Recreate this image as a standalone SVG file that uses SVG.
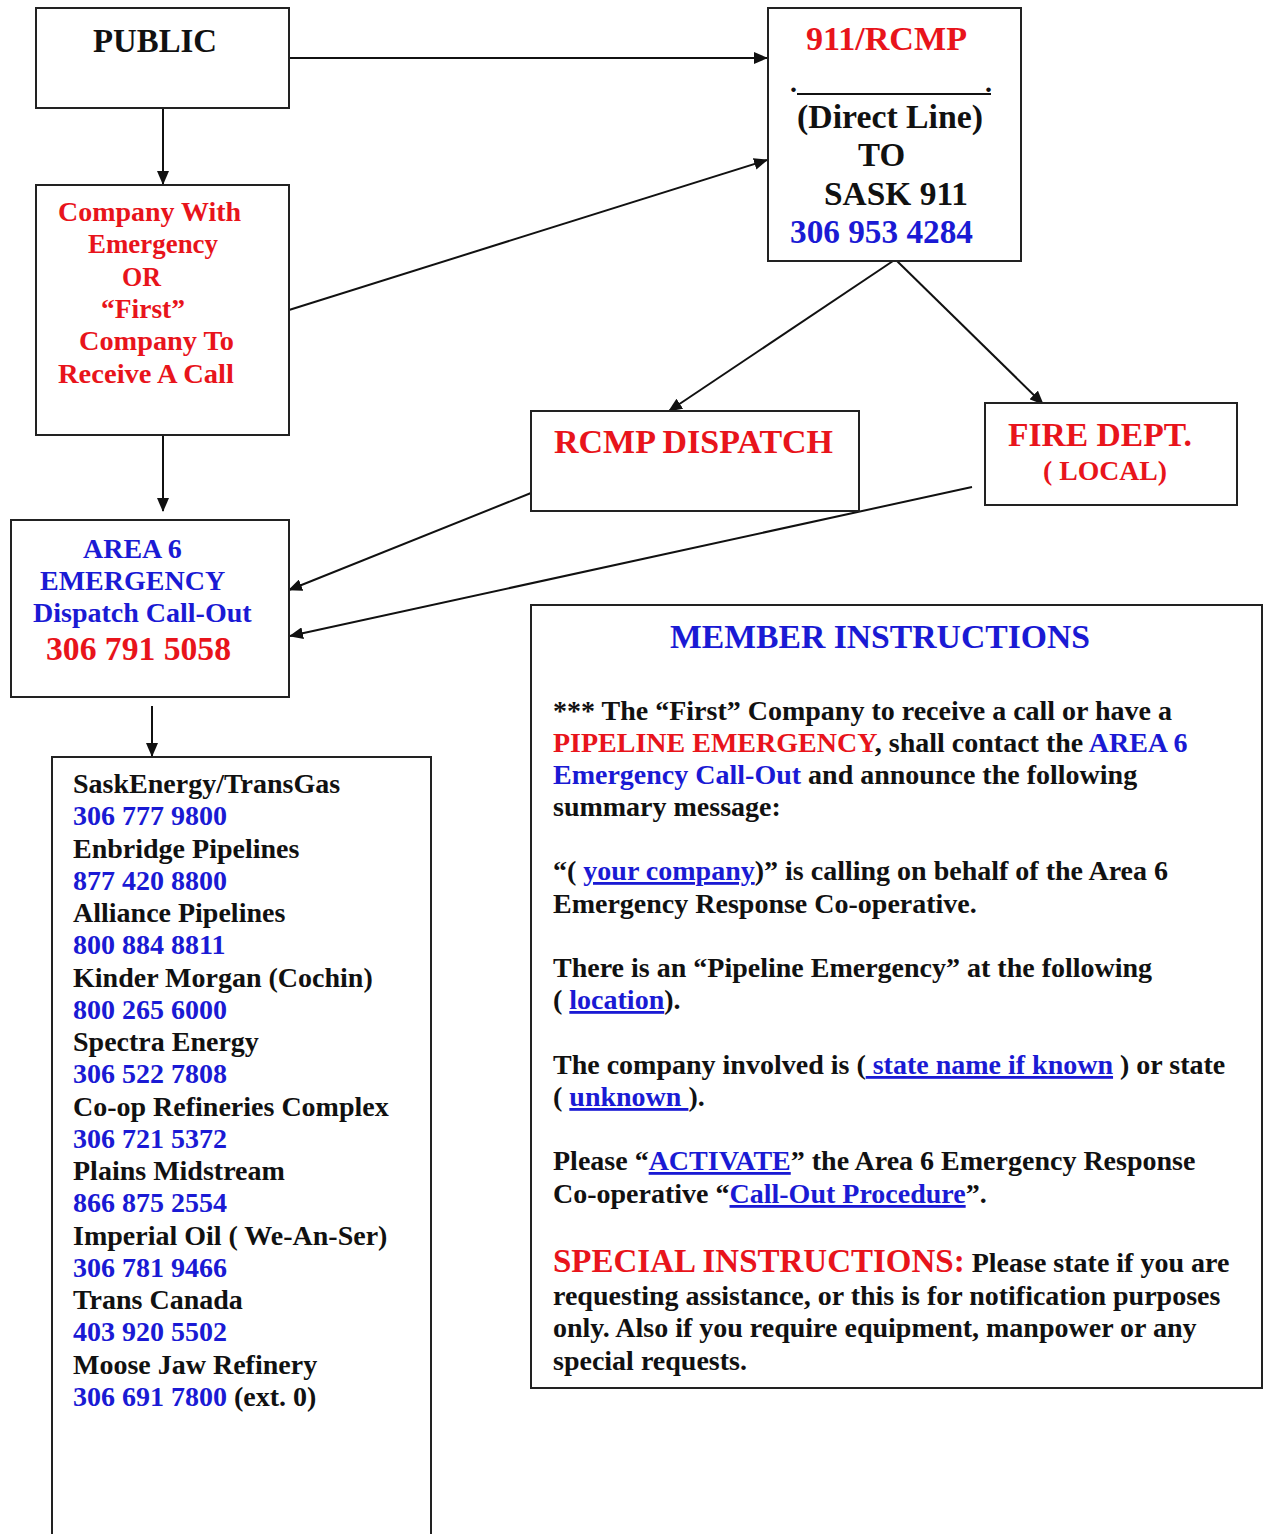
<svg xmlns="http://www.w3.org/2000/svg" width="1264" height="1534" viewBox="0 0 1264 1534">
<style>
.box{fill:#fff;stroke:#222;stroke-width:2}
.t{font-family:"Liberation Serif","Times New Roman",serif;font-weight:bold;fill:#111}
.r{fill:#e8141b}
.b{fill:#1a1ad4}
.f33{font-size:33px}
.f28{font-size:28px}
.f27{font-size:27px}
.u{text-decoration:underline}
.c{stroke:#111;stroke-width:2;fill:none}
</style>
<defs>
<marker id="ah" markerUnits="userSpaceOnUse" markerWidth="14" markerHeight="12" refX="13" refY="6" orient="auto">
<path d="M0,0 L14,6 L0,12 Z" fill="#111"/>
</marker>
</defs>
<rect width="1264" height="1534" fill="#fff"/>

<g id="connectors">
<line class="c" x1="289" y1="58" x2="767" y2="58" marker-end="url(#ah)"/>
<line class="c" x1="163" y1="108" x2="163" y2="184" marker-end="url(#ah)"/>
<line class="c" x1="289" y1="310" x2="767" y2="160" marker-end="url(#ah)"/>
<line class="c" x1="893" y1="261" x2="669" y2="411" marker-end="url(#ah)"/>
<line class="c" x1="897" y1="261" x2="1043" y2="404" marker-end="url(#ah)"/>
<line class="c" x1="163" y1="435" x2="163" y2="511" marker-end="url(#ah)"/>
<line class="c" x1="531" y1="493" x2="289" y2="590" marker-end="url(#ah)"/>
<line class="c" x1="972" y1="487" x2="290" y2="636" marker-end="url(#ah)"/>
<line class="c" x1="152" y1="706" x2="152" y2="756" marker-end="url(#ah)"/>
</g>

<g id="public">
<rect class="box" x="36" y="8" width="253" height="100"/>
<text class="t f33" x="93" y="52" textLength="124" lengthAdjust="spacingAndGlyphs">PUBLIC</text>
</g>

<g id="rcmp911">
<rect class="box" x="768" y="8" width="253" height="253"/>
<text class="t f33 r" x="806" y="50" textLength="161" lengthAdjust="spacingAndGlyphs">911/RCMP</text>
<text class="t f28" x="790" y="92">.</text>
<text class="t f28" x="985" y="92">.</text>
<line x1="797" y1="94" x2="991" y2="94" stroke="#111" stroke-width="2"/>
<text class="t f33" x="797" y="128" textLength="186" lengthAdjust="spacingAndGlyphs">(Direct Line)</text>
<text class="t f33" x="858" y="166">TO</text>
<text class="t f33" x="824" y="205" textLength="144" lengthAdjust="spacingAndGlyphs">SASK 911</text>
<text class="t f33 b" x="790" y="243" textLength="183" lengthAdjust="spacingAndGlyphs">306 953 4284</text>
</g>

<g id="company">
<rect class="box" x="36" y="185" width="253" height="250"/>
<text class="t f27 r" x="58" y="221" textLength="183" lengthAdjust="spacingAndGlyphs">Company With</text>
<text class="t f27 r" x="88" y="253" textLength="130" lengthAdjust="spacingAndGlyphs">Emergency</text>
<text class="t f27 r" x="122" y="286" textLength="39" lengthAdjust="spacingAndGlyphs">OR</text>
<text class="t f27 r" x="101" y="318" textLength="84" lengthAdjust="spacingAndGlyphs">“First”</text>
<text class="t f27 r" x="79" y="350" textLength="155" lengthAdjust="spacingAndGlyphs">Company To</text>
<text class="t f27 r" x="58" y="383" textLength="176" lengthAdjust="spacingAndGlyphs">Receive A Call</text>
</g>

<g id="rcmpdispatch">
<rect class="box" x="531" y="411" width="328" height="100"/>
<text class="t f33 r" x="554" y="453" textLength="279" lengthAdjust="spacingAndGlyphs">RCMP DISPATCH</text>
</g>

<g id="firedept">
<rect class="box" x="985" y="403" width="252" height="102"/>
<text class="t f33 r" x="1008" y="446" textLength="184" lengthAdjust="spacingAndGlyphs">FIRE DEPT.</text>
<text class="t f27 r" x="1043" y="480" textLength="124" lengthAdjust="spacingAndGlyphs">( LOCAL)</text>
</g>

<g id="area6">
<rect class="box" x="11" y="520" width="278" height="177"/>
<text class="t f28 b" x="83" y="558">AREA 6</text>
<text class="t f28 b" x="40" y="590">EMERGENCY</text>
<text class="t f28 b" x="33" y="622">Dispatch Call-Out</text>
<text class="t f33 r" x="46" y="660" textLength="185" lengthAdjust="spacingAndGlyphs">306 791 5058</text>
</g>

<g id="companylist">
<rect class="box" x="52" y="757" width="379" height="800"/>
<text class="t f28" x="73" y="793">SaskEnergy/TransGas</text>
<text class="t f28 b" x="73" y="825">306 777 9800</text>
<text class="t f28" x="73" y="858">Enbridge Pipelines</text>
<text class="t f28 b" x="73" y="890">877 420 8800</text>
<text class="t f28" x="73" y="922">Alliance Pipelines</text>
<text class="t f28 b" x="73" y="954">800 884 8811</text>
<text class="t f28" x="73" y="987">Kinder Morgan (Cochin)</text>
<text class="t f28 b" x="73" y="1019">800 265 6000</text>
<text class="t f28" x="73" y="1051">Spectra Energy</text>
<text class="t f28 b" x="73" y="1083">306 522 7808</text>
<text class="t f28" x="73" y="1116">Co-op Refineries Complex</text>
<text class="t f28 b" x="73" y="1148">306 721 5372</text>
<text class="t f28" x="73" y="1180">Plains Midstream</text>
<text class="t f28 b" x="73" y="1212">866 875 2554</text>
<text class="t f28" x="73" y="1245">Imperial Oil ( We-An-Ser)</text>
<text class="t f28 b" x="73" y="1277">306 781 9466</text>
<text class="t f28" x="73" y="1309">Trans Canada</text>
<text class="t f28 b" x="73" y="1341">403 920 5502</text>
<text class="t f28" x="73" y="1374">Moose Jaw Refinery</text>
<text class="t f28" x="73" y="1406"><tspan class="b">306 691 7800</tspan> (ext. 0)</text>
</g>

<g id="memberinstructions">
<rect class="box" x="531" y="605" width="731" height="783"/>
<text class="t f33 b" x="670" y="648" textLength="420" lengthAdjust="spacingAndGlyphs">MEMBER INSTRUCTIONS</text>
<text class="t f28" x="553" y="720">*** The “First” Company to receive a call or have a</text>
<text class="t f28" x="553" y="752"><tspan class="r">PIPELINE EMERGENCY</tspan>, shall contact the <tspan class="b">AREA 6</tspan></text>
<text class="t f28" x="553" y="784"><tspan class="b">Emergency Call-Out</tspan> and announce the following</text>
<text class="t f28" x="553" y="816">summary message:</text>
<text class="t f28" x="553" y="880">“( <tspan class="b u">your company</tspan>)” is calling on behalf of the Area 6</text>
<text class="t f28" x="553" y="913">Emergency Response Co-operative.</text>
<text class="t f28" x="553" y="977">There is an “Pipeline Emergency” at the following</text>
<text class="t f28" x="553" y="1009">( <tspan class="b u">location</tspan>).</text>
<text class="t f28" x="553" y="1074" xml:space="preserve">The company involved is (<tspan class="b u"> state name if known</tspan> ) or state</text>
<text class="t f28" x="553" y="1106" xml:space="preserve">( <tspan class="b u">unknown </tspan>).</text>
<text class="t f28" x="553" y="1170">Please “<tspan class="b u">ACTIVATE</tspan>” the Area 6 Emergency Response</text>
<text class="t f28" x="553" y="1203">Co-operative “<tspan class="b u">Call-Out Procedure</tspan>”.</text>
<text class="t f28" x="553" y="1272"><tspan class="r f33">SPECIAL INSTRUCTIONS:</tspan> Please state if you are</text>
<text class="t f28" x="553" y="1305">requesting assistance, or this is for notification purposes</text>
<text class="t f28" x="553" y="1337">only. Also if you require equipment, manpower or any</text>
<text class="t f28" x="553" y="1370">special requests.</text>
</g>
</svg>
